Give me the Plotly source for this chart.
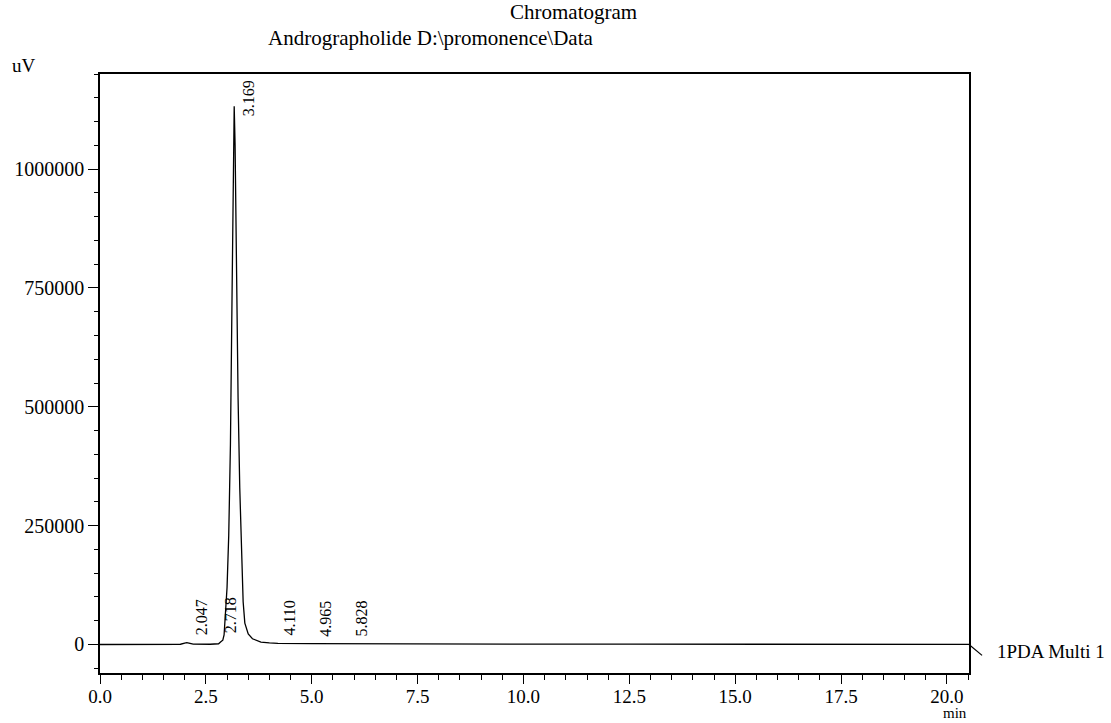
import plotly.graph_objects as go

# ---- data ----
time_min = [0.0, 1.0, 1.9, 2.0, 2.05, 2.1, 2.2, 2.6, 2.8, 2.86, 2.9, 2.93, 2.96, 3.0, 3.04,
            3.08, 3.12, 3.15, 3.169, 3.19, 3.22, 3.26, 3.30, 3.34, 3.38, 3.42, 3.5,
            3.6, 3.7, 3.8, 4.0, 4.2, 5.0, 6.0, 8.0, 10.0, 12.5, 15.0, 17.5, 20.52]
signal_uv = [0, 0, 500, 3000, 4000, 3000, 800, 500, 1500, 6000, 9000, 20000, 55000, 120000, 230000,
             420000, 750000, 1020000, 1132000, 1050000, 800000, 520000, 330000, 180000, 90000, 45000, 22000,
             12000, 8000, 5000, 3500, 2500, 2000, 1500, 1000, 800, 600, 500, 400, 300]

peak_times = [2.047, 2.718, 3.169, 4.110, 4.965, 5.828]
peak_labels = ["2.047", "2.718", "3.169", "4.110", "4.965", "5.828"]
peak_heights = [4000, 9000, 1132000, 3000, 2000, 1500]

x_ticks = [0.0, 2.5, 5.0, 7.5, 10.0, 12.5, 15.0, 17.5, 20.0]
y_ticks = [0, 250000, 500000, 750000, 1000000]

X_RANGE = [0, 20.52]
Y_RANGE = [-60000, 1200000]

FONT = "Liberation Serif"

fig = go.Figure()
fig.add_trace(go.Scatter(x=time_min, y=signal_uv, mode="lines",
                         line=dict(color="black", width=1.3), showlegend=False,
                         cliponaxis=True, hoverinfo="skip"))

annotations = []
for t, lab, h in zip(peak_times, peak_labels, peak_heights):
    if h > 1000000:
        annotations.append(dict(x=t, y=Y_RANGE[1], xref="x", yref="y", text=lab,
                                textangle=-90, showarrow=False, xanchor="center",
                                yanchor="top", xshift=14, yshift=-4,
                                font=dict(family=FONT, size=16, color="black")))
    else:
        annotations.append(dict(x=t, y=h, xref="x", yref="y", text=lab,
                                textangle=-90, showarrow=False, xanchor="center",
                                yanchor="bottom", xshift=15, yshift=5,
                                font=dict(family=FONT, size=16, color="black")))

annotations += [
    dict(x=0.545, y=1.1035, xref="paper", yref="paper", text="Chromatogram",
         showarrow=False, xanchor="center", yanchor="middle",
         font=dict(family=FONT, size=21, color="black")),
    dict(x=0.380, y=1.060, xref="paper", yref="paper",
         text="Andrographolide D:\\promonence\\Data",
         showarrow=False, xanchor="center", yanchor="middle",
         font=dict(family=FONT, size=21, color="black")),
    dict(x=-0.1036, y=1.015, xref="paper", yref="paper", text="uV",
         showarrow=False, xanchor="left", yanchor="middle",
         font=dict(family=FONT, size=19, color="black")),
    dict(x=0.984, y=-0.0668, xref="paper", yref="paper", text="min",
         showarrow=False, xanchor="center", yanchor="middle", borderpad=0,
         font=dict(family=FONT, size=15, color="black")),
    dict(x=1.030, y=-15800, xref="paper", yref="y", text="1PDA Multi 1",
         showarrow=False, xanchor="left", yanchor="middle",
         font=dict(family=FONT, size=19, color="black")),
]

fig.add_shape(type="line", xref="paper", yref="y", x0=1.0, y0=0, x1=1.015, y1=-23000,
              line=dict(color="black", width=1.2))

fig.update_layout(
    width=1111, height=723,
    margin=dict(l=100, r=142, t=74, b=50),
    paper_bgcolor="white", plot_bgcolor="white",
    font=dict(family=FONT, size=20, color="black"),
    annotations=annotations,
    showlegend=False,
    hovermode=False,
)

fig.update_xaxes(range=X_RANGE, tickvals=x_ticks,
                 ticktext=[f"{v:.1f}" for v in x_ticks],
                 ticks="outside", ticklen=9, tickwidth=1.2, tickcolor="black",
                 ticklabelstandoff=-4,
                 showline=True, linecolor="black", linewidth=1.5, mirror=True,
                 showgrid=False, zeroline=False,
                 minor=dict(dtick=0.5, tick0=0, ticks="outside", ticklen=5,
                            tickwidth=1.1, tickcolor="black", showgrid=False),
                 tickfont=dict(family=FONT, size=19, color="black"))
fig.update_yaxes(range=Y_RANGE, tickvals=y_ticks,
                 ticktext=[str(v) for v in y_ticks],
                 ticks="outside", ticklen=10, tickwidth=1.2, tickcolor="black",
                 showline=True, linecolor="black", linewidth=1.5, mirror=True,
                 showgrid=False, zeroline=False,
                 minor=dict(dtick=50000, tick0=0, ticks="outside", ticklen=4,
                            tickwidth=1.1, tickcolor="black", showgrid=False),
                 tickfont=dict(family=FONT, size=20, color="black"))

fig.write_html("out.html", config={"displayModeBar": False},
               post_script="document.body.style.margin='0px';document.body.style.overflow='hidden';")
